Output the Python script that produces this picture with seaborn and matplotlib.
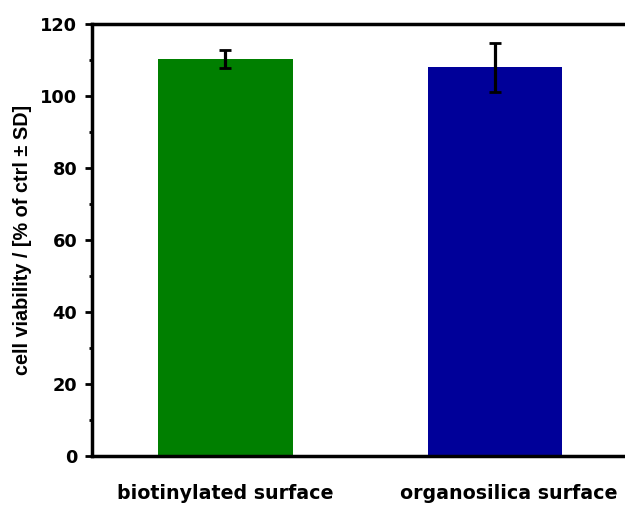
import matplotlib
matplotlib.use("Agg")
import matplotlib.pyplot as plt
import matplotlib.transforms as mtransforms
import seaborn as sns
import pandas as pd
from matplotlib.ticker import MultipleLocator

categories = ["biotinylated surface", "organosilica surface"]
viability = [110.3, 108.0]
sd = [2.5, 6.8]
colors = ["#007F00", "#000099"]

sns.set_theme(style="ticks")
plt.rcParams['font.family'] = ['Liberation Sans', 'DejaVu Sans']
plt.rcParams['font.weight'] = 'bold'
plt.rcParams['text.color'] = 'black'

df = pd.DataFrame({"surface": categories, "viability": viability})

fig = plt.figure(figsize=(6.25, 5.07), dpi=100)
ax = fig.add_axes([0.1472, 0.1006, 0.8624, 0.8521])

sns.barplot(data=df, x="surface", y="viability", hue="surface", palette=colors,
            width=0.5, errorbar=None, legend=False, ax=ax, saturation=1,
            linewidth=0)
ax.errorbar(x=list(range(len(categories))), y=viability, yerr=sd, fmt="none",
            ecolor="black", elinewidth=2.3, capsize=4.2, capthick=2.0)

ax.set_xlim(-0.495, 1.505)
ax.set_ylim(0, 120)
ax.yaxis.set_major_locator(MultipleLocator(20))
ax.yaxis.set_minor_locator(MultipleLocator(10))
ax.set_xlabel("")
ax.set_ylabel("cell viability / [% of ctrl ± SD]", fontsize=14.3, fontweight="bold",
              labelpad=6, color="black", family=['Liberation Sans', 'DejaVu Sans'])

for s in ["left", "bottom", "top"]:
    ax.spines[s].set_linewidth(2.5)
    ax.spines[s].set_color("black")
ax.spines["right"].set_visible(False)

ax.tick_params(axis="y", which="major", length=5, width=2, direction="out",
               labelsize=12.8, pad=5.5, colors="black")
ax.tick_params(axis="y", which="minor", length=2.5, width=2, direction="out", colors="black")
ax.tick_params(axis="x", which="both", length=0, labelsize=13.7, pad=20.5, colors="black")
for lab in ax.get_xticklabels() + ax.get_yticklabels():
    lab.set_fontweight("bold")
    lab.set_family(['DejaVu Sans'])

xl = ax.get_xticklabels()
xl[1].set_transform(xl[1].get_transform() +
                    mtransforms.ScaledTranslation(0.14, 0, fig.dpi_scale_trans))

fig.savefig("out.png", dpi=100)
